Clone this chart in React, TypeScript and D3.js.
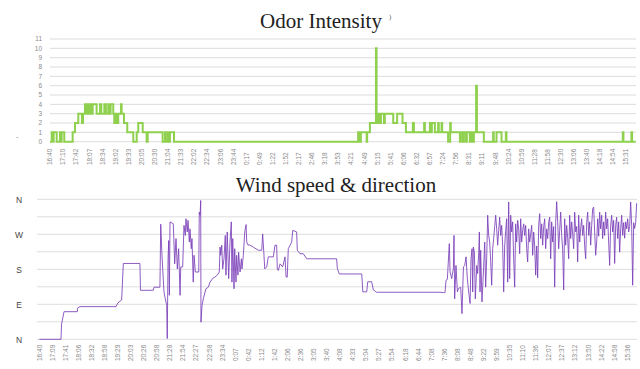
import React, { useEffect, useRef } from "react";
import * as d3 from "d3";

// odor chart
const odorTicks = ["16:40", "17:10", "17:42", "18:07", "18:34", "19:02", "19:33", "20:05", "20:30", "21:04", "21:33", "22:02", "22:34", "23:06", "23:44", "0:17", "0:49", "1:22", "1:52", "2:17", "2:46", "3:18", "3:53", "4:21", "4:49", "5:15", "5:41", "6:06", "6:32", "6:57", "7:24", "7:56", "8:31", "9:11", "9:48", "10:24", "10:59", "11:28", "11:58", "12:30", "13:06", "13:40", "14:18", "14:54", "15:31"];
const odorLevels = [0, 1, 2, 3, 4, 5, 6, 7, 8, 9, 10, 11];
// step changes: position (in tick slots) and new level
const odorT = [0, 0.13, 0.23, 0.28, 0.51, 0.76, 0.84, 0.89, 1.09, 1.73, 1.91, 2.16, 2.44, 2.52, 2.67, 2.75, 2.8, 2.9, 2.95, 3.05, 3.11, 3.21, 3.26, 3.56, 3.82, 3.92, 4.15, 4.27, 4.45, 4.58, 4.63, 4.83, 4.91, 5.02, 5.06, 5.21, 5.42, 5.47, 5.65, 5.9, 6.36, 6.62, 6.74, 7.08, 7.38, 7.46, 8.6, 8.78, 8.85, 9.01, 9.08, 9.16, 9.47, 23.53, 23.66, 23.74, 24.18, 24.22, 24.43, 24.89, 24.94, 25.04, 25.19, 25.27, 25.5, 25.57, 26.21, 26.51, 26.92, 27.18, 27.71, 27.79, 28.57, 28.63, 29.01, 29.08, 29.16, 29.39, 29.64, 29.69, 29.9, 29.95, 30.4, 30.56, 30.61, 31.3, 31.37, 31.53, 31.6, 31.76, 31.83, 32.06, 32.14, 32.29, 32.37, 32.54, 32.6, 33.13, 33.84, 33.89, 34.1, 34.48, 34.81, 34.86, 43.74, 43.79, 44.4, 44.45, 44.73];
const odorV = [0, 1, 0, 1, 0, 1, 0, 1, 0, 1, 2, 3, 2, 3, 4, 3, 4, 3, 4, 3, 4, 3, 4, 3, 4, 3, 4, 3, 4, 3, 4, 3, 2, 3, 2, 3, 4, 3, 2, 1, 0, 1, 2, 1, 0, 1, 0, 1, 0, 1, 0, 1, 0, 1, 0, 1, 0, 1, 2, 10, 2, 3, 2, 3, 2, 3, 2, 3, 2, 1, 2, 1, 2, 1, 2, 1, 2, 1, 2, 1, 2, 1, 0, 2, 1, 0, 1, 0, 1, 0, 1, 0, 1, 0, 1, 6, 1, 0, 1, 0, 1, 0, 1, 0, 1, 0, 1, 0, 0];

// wind chart
const windTicks = ["16:40", "17:09", "17:41", "18:06", "18:32", "18:58", "19:29", "20:03", "20:26", "20:58", "21:28", "21:54", "22:27", "22:58", "23:34", "0:07", "0:42", "1:12", "1:42", "2:06", "2:36", "3:05", "3:40", "4:08", "4:33", "5:04", "5:27", "5:54", "6:18", "6:44", "7:08", "7:36", "8:08", "8:48", "9:22", "9:59", "10:35", "11:10", "11:36", "12:07", "12:37", "13:12", "13:50", "14:22", "14:58", "15:36"];
const windGrid = [0, 45, 90, 135, 180, 225, 270, 315, 360];
const windDirDeg = [0, 90, 180, 270, 360];
const windDirLabel = ["N", "E", "S", "W", "N"];
const windT = [0, 1.66, 1.7, 1.74, 1.89, 2.91, 2.92, 3.11, 5.87, 6.02, 6.3, 6.43, 7.7, 7.74, 8.72, 8.78, 9.23, 9.29, 9.37, 9.44, 9.54, 9.64, 9.75, 9.79, 9.85, 9.9, 9.95, 10.0, 10.25, 10.36, 10.46, 10.56, 10.66, 10.77, 10.82, 10.97, 11.07, 11.17, 11.22, 11.32, 11.38, 11.48, 11.53, 11.63, 11.68, 11.78, 11.84, 11.94, 12.2, 12.24, 12.3, 12.35, 12.37, 12.45, 12.55, 12.75, 12.93, 13.06, 13.31, 13.44, 13.62, 13.77, 13.83, 13.88, 13.96, 14.03, 14.13, 14.23, 14.28, 14.38, 14.49, 14.59, 14.69, 14.74, 14.8, 14.9, 14.95, 15.05, 15.1, 15.2, 15.25, 15.36, 15.46, 15.51, 15.61, 15.72, 15.82, 15.87, 15.97, 16.07, 16.37, 16.76, 17.02, 17.09, 17.19, 17.25, 17.4, 17.52, 17.91, 18.03, 18.16, 18.21, 18.29, 18.42, 18.62, 18.8, 18.88, 18.97, 19.05, 19.31, 19.39, 19.56, 19.69, 19.74, 19.95, 20.2, 20.46, 22.75, 22.8, 22.95, 24.67, 24.75, 25.05, 25.13, 25.43, 25.56, 25.81, 30.66, 30.91, 31.04, 31.12, 31.22, 31.37, 31.43, 31.55, 31.68, 31.73, 31.78, 31.88, 31.99, 32.06, 32.24, 32.34, 32.45, 32.55, 32.65, 32.75, 32.85, 32.96, 33.03, 33.11, 33.16, 33.21, 33.29, 33.36, 33.47, 33.54, 33.62, 33.67, 33.72, 33.77, 33.87, 33.98, 34.08, 34.15];
const windV = [0, 0, 39, 45, 71, 71, 80, 84, 84, 94, 101, 195, 195, 126, 126, 134, 134, 296, 229, 181, 122, 104, 87, 2, 207, 254, 113, 302, 297, 194, 259, 181, 233, 113, 186, 186, 293, 267, 310, 276, 306, 250, 284, 233, 259, 147, 216, 173, 173, 327, 319, 357, 44, 87, 104, 130, 134, 147, 158, 160, 165, 173, 237, 216, 242, 181, 207, 267, 165, 276, 156, 250, 302, 147, 259, 130, 233, 147, 216, 165, 224, 173, 207, 181, 216, 276, 295, 250, 242, 243, 237, 229, 229, 271, 216, 181, 186, 212, 212, 242, 242, 181, 177, 194, 186, 212, 160, 160, 233, 250, 280, 278, 276, 229, 220, 220, 207, 207, 183, 168, 168, 122, 122, 148, 148, 127, 121, 121, 120, 120, 152, 154, 246, 173, 156, 181, 267, 104, 190, 122, 130, 134, 66, 186, 190, 212, 156, 122, 92, 207, 233, 122, 237, 224, 104, 190, 169, 224, 276, 122, 229, 96, 173, 250, 134];
// dense part at a fixed sample interval
const windTailStart = 34.23;
const windTailStep = 0.0765;
const windTail = [207, 319, 267, 250, 200, 139, 233, 259, 290, 319, 284, 242, 280, 314, 267, 293, 240, 122, 240, 280, 310, 147, 353, 156, 319, 276, 302, 207, 134, 297, 250, 306, 284, 220, 310, 250, 280, 297, 267, 293, 233, 199, 284, 250, 270, 293, 216, 276, 240, 165, 240, 158, 293, 323, 259, 297, 242, 290, 310, 233, 284, 259, 300, 314, 207, 302, 250, 290, 134, 300, 354, 302, 233, 280, 327, 267, 230, 127, 310, 242, 293, 260, 207, 319, 259, 302, 270, 233, 327, 276, 290, 199, 319, 250, 285, 310, 267, 293, 240, 207, 300, 327, 267, 302, 242, 293, 336, 340, 276, 216, 250, 310, 265, 327, 284, 319, 259, 302, 267, 327, 284, 310, 250, 190, 293, 319, 276, 306, 195, 293, 314, 259, 302, 224, 284, 319, 267, 300, 260, 302, 284, 310, 276, 290, 353, 293, 139, 300, 285, 300, 350];

const sans = "'Liberation Sans', Arial, sans-serif";
const serif = "'Liberation Serif', 'Times New Roman', serif";

export default function App() {
  const svgRef = useRef<SVGSVGElement>(null);

  useEffect(() => {
    const svg = d3.select(svgRef.current);
    svg.selectAll("*").remove();
    svg.append("rect").attr("width", 640).attr("height", 369).attr("fill", "white");

    // ---- Odor Intensity ----
    const x1 = d3.scaleLinear().domain([0, 44.75]).range([50, 636]);
    const y1 = d3.scaleLinear().domain([0, 11]).range([141.7, 39]);

    svg
      .append("text")
      .attr("x", 321)
      .attr("y", 28)
      .attr("text-anchor", "middle")
      .attr("font-family", serif)
      .attr("font-size", 21)
      .attr("fill", "#222")
      .text("Odor Intensity");
    svg
      .append("text")
      .attr("x", 389)
      .attr("y", 19)
      .attr("font-family", serif)
      .attr("font-size", 7)
      .attr("fill", "#666")
      .text(")");
    svg
      .append("text")
      .attr("x", 16)
      .attr("y", 139)
      .attr("font-family", sans)
      .attr("font-size", 7)
      .attr("fill", "#777")
      .text("-");

    const g1 = svg.append("g");
    g1.selectAll("line.grid")
      .data(odorLevels)
      .enter()
      .append("line")
      .attr("x1", x1.range()[0])
      .attr("x2", x1.range()[1])
      .attr("y1", (d) => y1(d))
      .attr("y2", (d) => y1(d))
      .attr("stroke", "#dcdcdc")
      .attr("stroke-width", 1);
    g1.selectAll("text.ylab")
      .data(odorLevels)
      .enter()
      .append("text")
      .attr("x", 42)
      .attr("y", (d) => y1(d) + 2.2)
      .attr("text-anchor", "end")
      .attr("font-family", sans)
      .attr("font-size", 6.5)
      .attr("fill", "#8a8a8a")
      .text((d) => d);
    g1.selectAll("text.xlab")
      .data(odorTicks)
      .enter()
      .append("text")
      .attr("transform", (d, i) => `translate(${x1(i) + 2.3},165) rotate(-90)`)
      .attr("font-family", sans)
      .attr("font-size", 6.5)
      .attr("fill", "#8a8a8a")
      .text((d) => d);

    const odorPts: [number, number][] = odorT.map((t, i) => [t, odorV[i]]);
    const odorLine = d3
      .line<[number, number]>()
      .x((d) => x1(d[0]))
      .y((d) => y1(d[1]))
      .curve(d3.curveStepAfter);
    g1.append("path")
      .attr("d", odorLine(odorPts))
      .attr("fill", "none")
      .attr("stroke", "#8fd14f")
      .attr("stroke-width", 2);

    // ---- Wind speed & direction ----
    const x2 = d3.scaleLinear().domain([0, 45.7]).range([39.3, 636.6]);
    const y2 = d3.scaleLinear().domain([0, 360]).range([339.3, 199.3]);

    svg
      .append("text")
      .attr("x", 336)
      .attr("y", 191.5)
      .attr("text-anchor", "middle")
      .attr("font-family", serif)
      .attr("font-size", 21)
      .attr("fill", "#222")
      .text("Wind speed & direction");

    const g2 = svg.append("g");
    g2.selectAll("line.grid")
      .data(windGrid)
      .enter()
      .append("line")
      .attr("x1", 37)
      .attr("x2", 637)
      .attr("y1", (d) => y2(d))
      .attr("y2", (d) => y2(d))
      .attr("stroke", "#dedede")
      .attr("stroke-width", 1);
    g2.selectAll("text.ylab")
      .data(windDirDeg)
      .enter()
      .append("text")
      .attr("x", 19)
      .attr("y", (d) => y2(d) + 3.5)
      .attr("text-anchor", "middle")
      .attr("font-family", sans)
      .attr("font-size", 8.5)
      .attr("fill", "#444")
      .text((d, i) => windDirLabel[i]);
    g2.selectAll("text.xlab")
      .data(windTicks)
      .enter()
      .append("text")
      .attr("transform", (d, i) => `translate(${x2(i) + 2.3},361) rotate(-90)`)
      .attr("font-family", sans)
      .attr("font-size", 6.5)
      .attr("fill", "#8a8a8a")
      .text((d) => d);

    const windPts: [number, number][] = windT
      .map((t, i) => [t, windV[i]] as [number, number])
      .concat(windTail.map((v, i) => [windTailStart + i * windTailStep, v] as [number, number]));
    const windLine = d3
      .line<[number, number]>()
      .x((d) => x2(d[0]))
      .y((d) => y2(d[1]));
    g2.append("path")
      .attr("d", windLine(windPts))
      .attr("fill", "none")
      .attr("stroke", "#7a3fb8")
      .attr("stroke-opacity", 0.85)
      .attr("stroke-width", 1);
  }, []);

  return (
    <svg
      ref={svgRef}
      width={640}
      height={369}
      style={{ position: "absolute", left: 0, top: 0 }}
    ></svg>
  );
}
